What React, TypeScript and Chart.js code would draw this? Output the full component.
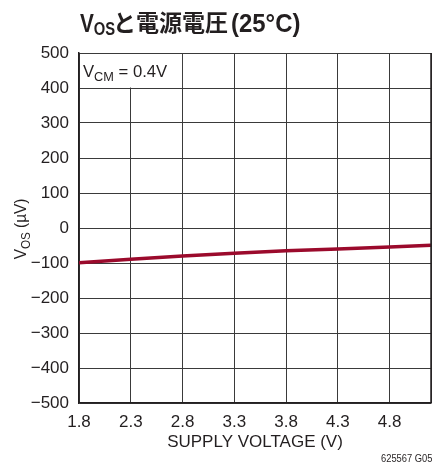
import React, { useEffect, useRef } from "react";
import { Chart, registerables } from "chart.js";

Chart.register(...registerables);

// Supply voltage (V) and offset voltage (µV) at 25°C
const supplyVoltage = [1.8, 2.3, 2.8, 3.3, 3.8, 4.3, 4.8, 5.2];
const offsetMicroVolts = [-99, -89, -80, -72, -65, -60, -54, -49];
const xTickValues = [1.8, 2.3, 2.8, 3.3, 3.8, 4.3, 4.8, 5.2];
const xTickLabels = ["1.8", "2.3", "2.8", "3.3", "3.8", "4.3", "4.8", ""];
const yTickValues = [-500, -400, -300, -200, -100, 0, 100, 200, 300, 400, 500];

const FONT = '"Liberation Sans", "Noto Sans CJK JP", sans-serif';
const CJK = '"Noto Sans CJK JP", sans-serif';
const INK = "#231f20";

const fmt = (v: number) => (v < 0 ? "\u2212" + Math.abs(v) : String(v));

// draws text squeezed horizontally, returns the advance width
function narrowText(ctx: CanvasRenderingContext2D, text: string, x: number, y: number, font: string, sx: number) {
  ctx.save();
  ctx.font = font;
  ctx.translate(x, y);
  ctx.scale(sx, 1);
  ctx.fillText(text, 0, 0);
  const w = ctx.measureText(text).width * sx;
  ctx.restore();
  return w;
}

const annotations = {
  id: "annotations",
  afterDraw(chart: any) {
    const { ctx, chartArea, scales } = chart;
    const { left, right, top, bottom } = chartArea;
    ctx.save();

    // right frame edge
    ctx.strokeStyle = INK;
    ctx.lineWidth = 1.5;
    ctx.beginPath();
    ctx.moveTo(right, top);
    ctx.lineTo(right, bottom);
    ctx.stroke();

    // condition box: the cell bounded by the 2.8 V and 400 µV grid lines
    const bx = left;
    const by = top;
    const bRight = scales.x.getPixelForValue(2.8);
    const bBottom = scales.y.getPixelForValue(400);
    ctx.fillStyle = "#fff";
    ctx.fillRect(bx + 1, by + 1, bRight - bx - 1.5, bBottom - by - 1.5);
    ctx.fillStyle = INK;
    ctx.textBaseline = "alphabetic";
    ctx.textAlign = "left";
    let x = bx + 4;
    const base = by + 24;
    x += narrowText(ctx, "V", x, base, `17px ${FONT}`, 0.98);
    x += narrowText(ctx, "CM", x, base + 4, `13px ${FONT}`, 0.98);
    narrowText(ctx, " = 0.4V", x, base, `17px ${FONT}`, 0.98);

    // chart title
    const tb = 32;
    let tx = 80;
    tx += narrowText(ctx, "V", tx, tb, `bold 26px ${FONT}`, 0.8);
    narrowText(ctx, "OS", tx, tb + 3, `bold 18px ${FONT}`, 0.82);
    ctx.font = `bold 23px ${CJK}`;
    ctx.fillText("と電源電圧", 113, tb - 1);
    narrowText(ctx, "(25°C)", 231, tb, `bold 26px ${FONT}`, 0.92);

    // y-axis title, rotated
    ctx.save();
    ctx.translate(26, 229);
    ctx.rotate(-Math.PI / 2);
    const parts: [string, number, number][] = [
      ["V", 17, 0],
      ["OS", 13, 4],
      [" (µV)", 17, 0],
    ];
    let total = 0;
    for (const [t, s] of parts) {
      ctx.font = `${s}px ${FONT}`;
      total += ctx.measureText(t).width * 0.9;
    }
    let px = -total / 2;
    for (const [t, s, dy] of parts) {
      px += narrowText(ctx, t, px, dy, `${s}px ${FONT}`, 0.9);
    }
    ctx.restore();

    // figure code
    narrowText(ctx, "625567 G05", 381, 462, `11px ${FONT}`, 0.85);

    ctx.restore();
  },
};

export default function App() {
  const canvasRef = useRef<HTMLCanvasElement>(null);

  useEffect(() => {
    document.body.style.margin = "0";
    const canvas = canvasRef.current!;
    const chart = new Chart(canvas, {
      type: "line",
      data: {
        datasets: [
          {
            data: supplyVoltage.map((v, i) => ({ x: v, y: offsetMicroVolts[i] })),
            borderColor: "#9b0a2c",
            borderWidth: 3.5,
            pointRadius: 0,
            tension: 0,
          },
        ],
      },
      options: {
        animation: false,
        responsive: false,
        devicePixelRatio: 1,
        layout: { padding: { top: 53, right: 1, left: 0, bottom: 22 } },
        plugins: {
          legend: { display: false },
          tooltip: { enabled: false },
        },
        scales: {
          x: {
            type: "linear",
            min: 1.8,
            max: 5.2,
            afterBuildTicks: (s: any) => {
              s.ticks = xTickValues.map((v) => ({ value: v }));
            },
            afterFit: (s: any) => {
              s.height = 50;
              s.paddingLeft = 0;
              s.paddingRight = 0;
            },
            ticks: {
              autoSkip: false,
              maxRotation: 0,
              padding: 9,
              color: INK,
              font: { family: FONT, size: 17 },
              callback: (_v: any, i: number) => xTickLabels[i],
            },
            grid: { color: "#3a3a3a", lineWidth: 1, drawTicks: false },
            border: { color: INK, width: 1.5 },
            title: {
              display: true,
              text: "SUPPLY VOLTAGE (V)",
              color: INK,
              font: { family: FONT, size: 17 },
              padding: { top: 2, bottom: 0 },
            },
          },
          y: {
            type: "linear",
            min: -500,
            max: 500,
            afterBuildTicks: (s: any) => {
              s.ticks = yTickValues.map((v) => ({ value: v }));
            },
            afterFit: (s: any) => {
              s.width = 79;
              s.paddingTop = 0;
              s.paddingBottom = 0;
            },
            ticks: {
              autoSkip: false,
              padding: 10,
              color: INK,
              font: { family: FONT, size: 17 },
              callback: (v: any) => fmt(Number(v)),
            },
            grid: { color: "#3a3a3a", lineWidth: 1, drawTicks: false },
            border: { color: INK, width: 1.5 },
          },
        },
      },
      plugins: [annotations],
    });
    return () => chart.destroy();
  }, []);

  return (
    <div style={{ width: 432, height: 475, position: "relative" }}>
      <canvas ref={canvasRef} width={432} height={475} style={{ display: "block" }} />
    </div>
  );
}
